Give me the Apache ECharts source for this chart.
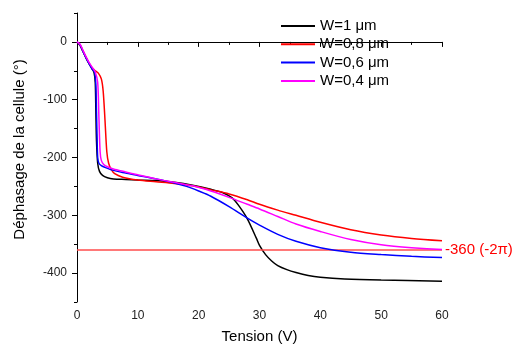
<!DOCTYPE html>
<html>
<head>
<meta charset="utf-8">
<script src="https://cdn.jsdelivr.net/npm/echarts@6/dist/echarts.min.js"></script>
<style>html,body{margin:0;padding:0;background:#fff;}#c{width:513px;height:345px;}</style>
</head>
<body>
<div id="c"></div>
<script>
var seriesNames = ['W=1 \u03bcm', 'W=0,8 \u03bcm', 'W=0,6 \u03bcm', 'W=0,4 \u03bcm'];
var xBlack = [0,0.5,1,1.5,2,2.5,2.8,3.0,3.1,3.2,3.4,3.7,4.2,5,6,8,10,13,16,19,22,24,25.5,26.5,28,29.5,30,31,32,33,34.5,36,38,40,44,50,60];
var yBlack = [0,-6,-17,-28,-38,-47,-53,-70,-120,-170,-210,-224,-231,-235,-237,-238,-239,-240,-243,-248,-255,-261,-270,-282,-306,-340,-352,-368,-379,-387,-394,-399,-404,-407,-410,-412,-414];
var xRed = [0,0.5,1,1.5,2,2.5,3,3.5,4,4.3,4.6,4.9,5.2,5.6,6.2,7.5,10,13,16,19,22,25,28,30,33,36,40,45,50,55,60];
var yRed = [0,-5,-16,-27,-37,-45,-50,-54,-64,-85,-135,-190,-210,-220,-228,-234,-239,-242,-245,-249,-256,-263,-273,-281,-291,-300,-312,-325,-334,-340,-344];
var xBlue = [0,0.5,1,1.5,2,2.5,2.9,3.1,3.2,3.3,3.4,3.6,4,4.6,5.5,7.5,10,13,16,18,20,22,25,28,30,33,36,40,45,50,55,60];
var yBlue = [0,-5,-17,-28,-38,-47,-53,-75,-120,-165,-200,-210,-214,-217,-221,-226,-231,-237,-244,-250,-258,-267,-285,-305,-317,-333,-345,-356,-364,-368,-371,-373];
var xMag = [0,0.5,1,1.5,2,2.5,3,3.4,3.6,3.8,4.0,4.4,5,6,8,10,13,16,19,22,25,28,30,33,36,40,45,50,55,60];
var yMag = [0,-4,-15,-26,-36,-44,-52,-70,-130,-190,-205,-212,-216,-220,-225,-230,-237,-243,-249,-258,-269,-281,-289,-302,-315,-328,-342,-351,-356,-359];
var refLevel = -360;
var refLabel = '-360 (-2\u03c0)';
var yTickLabels = [0,-100,-200,-300,-400];
var yMinorTicks = [50,-50,-150,-250,-350,-450];
var colors = ['#000000','#ff0000','#0000ff','#ff00ff'];

function pairs(xs, ys){ return xs.map(function(x,i){ return [x, ys[i]]; }); }
var allX = [xBlack, xRed, xBlue, xMag];
var allY = [yBlack, yRed, yBlue, yMag];

var font = 'Arial, "Liberation Sans", sans-serif';
var series = seriesNames.map(function(n, i){
  return {
    name: n, type: 'line', data: pairs(allX[i], allY[i]),
    showSymbol: false, symbol: 'none', smooth: 0.3,
    lineStyle: {color: colors[i], width: 1.5}, itemStyle: {color: colors[i]},
    z: 3 + i, animation: false
  };
});
series.push({
  type: 'line', data: [], silent: true, animation: false,
  markLine: {
    symbol: ['none','none'], silent: true, animation: false,
    lineStyle: {color: '#ff4d4d', width: 1.5, type: 'solid'},
    label: {show: true, position: 'end', formatter: refLabel, color: '#ff0000', fontSize: 15, fontFamily: font, distance: 3},
    data: [[{coord: [0, refLevel]}, {coord: [60, refLevel]}]]
  }
});

var chart = echarts.init(document.getElementById('c'), null, {renderer: 'canvas'});
chart.setOption({
  backgroundColor: '#ffffff',
  animation: false,
  grid: {left: 77, right: 71, top: 13, bottom: 43, containLabel: false, outerBoundsMode: 'none'},
  legend: {
    orient: 'vertical', left: 276, top: 13, itemWidth: 34, itemHeight: 2, itemGap: 2.3, icon: 'rect',
    textStyle: {fontSize: 15, fontFamily: font, color: '#000', lineHeight: 16},
    data: seriesNames
  },
  xAxis: {
    type: 'value', min: 0, max: 60, interval: 10,
    name: 'Tension (V)', nameLocation: 'middle', nameGap: 27,
    nameTextStyle: {fontSize: 15, fontFamily: font, color: '#000'},
    axisLine: {show: true, lineStyle: {color: '#000', width: 1}},
    axisTick: {show: true, length: 5, lineStyle: {color: '#000'}},
    minorTick: {show: true, splitNumber: 2, length: 3, lineStyle: {color: '#000'}},
    axisLabel: {fontSize: 12, fontFamily: font, color: '#222', margin: 8},
    splitLine: {show: false}
  },
  yAxis: [{
    type: 'value', min: -450, max: 50, interval: 50,
    name: 'D\u00e9phasage de la cellule (\u00b0)', nameLocation: 'middle', nameGap: 50,
    nameTextStyle: {fontSize: 15, fontFamily: font, color: '#000', padding: [0,0,0,16]},
    axisLine: {show: true, onZero: false, lineStyle: {color: '#000', width: 1}},
    axisTick: {show: true, length: 5, customValues: yTickLabels, lineStyle: {color: '#000'}},
    axisLabel: {fontSize: 12, fontFamily: font, color: '#222', margin: 10, customValues: yTickLabels},
    splitLine: {show: false}
  }, {
    type: 'value', min: -450, max: 50, interval: 50, position: 'left',
    axisLine: {show: false},
    axisTick: {show: true, length: 3, customValues: yMinorTicks, lineStyle: {color: '#000'}},
    axisLabel: {show: false},
    splitLine: {show: false}
  }],
  series: series
});
</script>
</body>
</html>
